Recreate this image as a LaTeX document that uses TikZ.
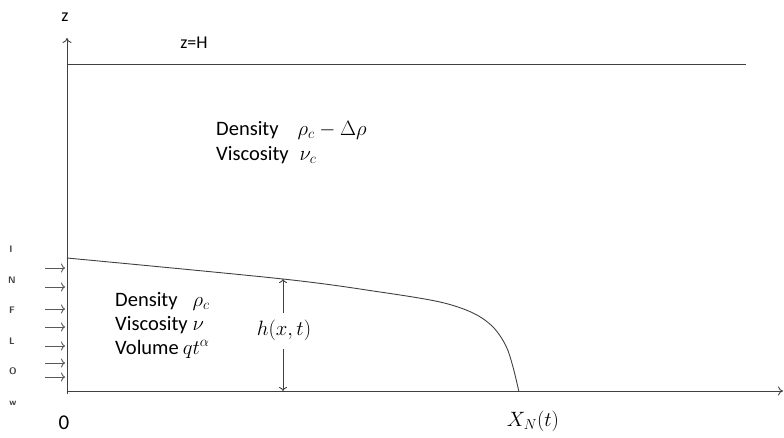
\documentclass[tikz,border=0pt]{standalone}
\usepackage{fontspec}
\setmainfont{Carlito}
\usetikzlibrary{arrows.meta}
\begin{document}
\begin{tikzpicture}[x=1pt,y=-1pt,
  ln/.style={draw=black!75, line width=0.9pt},
  tip/.style={-{To[length=5pt,width=9pt]}},
  lbl/.style={font=\fontsize{20.5}{22}\selectfont, inner sep=0pt, anchor=base west},
  inf/.style={font=\sffamily\bfseries\fontsize{9.5}{10}\selectfont, text=black!75, inner sep=0pt},
  ax/.style={font=\fontsize{18}{20}\selectfont, inner sep=0pt}]
\path[use as bounding box] (0,0) rectangle (784,437);
% axes
\coordinate (O) at (67,391);
\coordinate (ztop) at (67,38);
\coordinate (xend) at (783,391);
\draw[ln, tip] (67,394) -- (ztop);
\draw[ln, tip] (O) -- (xend);
\node[ax] (zlab) at (65,17) {z};
\node[font=\fontsize{21}{23}\selectfont, inner sep=0pt] (origin) at (64,423) {0};
% top boundary
\coordinate (H0) at (67,64);
\coordinate (H1) at (746,64);
\draw[ln] (H0) -- (H1);
\node[ax] (zH) at (194,43) {z=H};
% interface
\coordinate (i0) at (67,258);
\coordinate (hx) at (283,279);
\coordinate (xn) at (519,392);
\draw[ln] plot[smooth, tension=0.55] coordinates {(67,258) (283,279) (380,292) (440,302) (473,313) (493,327) (506,346) (513,367) (519,392)};
% h arrow
\node[font=\fontsize{20}{22}\selectfont, inner sep=2pt] (h) at (284,330) {$h(x,t)$};
\coordinate (hb) at (283,391);
\draw[ln, -{To[length=4pt,width=8pt]}] (h.north -| hx) ++(0,-4) -- (hx);
\draw[ln, -{To[length=4pt,width=8pt]}] (h.south -| hb) ++(0,6) -- (hb);
% X_N
\node[font=\fontsize{20}{22}\selectfont, inner sep=0pt] (XN) at (533,421) {$X_N(t)$};
% upper fluid labels
\node[lbl] (d1) at (216,135) {Density\hspace{19pt}$\rho_c-\Delta\rho$};
\node[lbl] (v1) at (216,160) {Viscosity\hspace{11pt}$\nu_c$};
% lower fluid labels
\node[lbl] (d2) at (115,306) {Density\hspace{15pt}$\rho_c$};
\node[lbl] (v2) at (115,330) {Viscosity\hspace{5pt}$\nu$};
\node[lbl] (q2) at (115,354) {Volume\hspace{4pt}$qt^\alpha$};
% inflow arrows
\foreach \yy [count=\i] in {268,287,309,327,346,363,377} {
  \coordinate (a\i) at (45,\yy);
  \coordinate (b\i) at (65,\yy);
  \draw[ln, black!65, -{To[length=4pt,width=9pt]}] (a\i) -- (b\i);
}
% INFLOW letters
\node[inf] (L1) at (11,249) {I};
\node[inf] (L2) at (12,280) {N};
\node[inf] (L3) at (12,310) {F};
\node[inf] (L4) at (12,341) {L};
\node[inf] (L5) at (13,371) {O};
\node[inf] (L6) at (13,403) {w};
\end{tikzpicture}
\end{document}
